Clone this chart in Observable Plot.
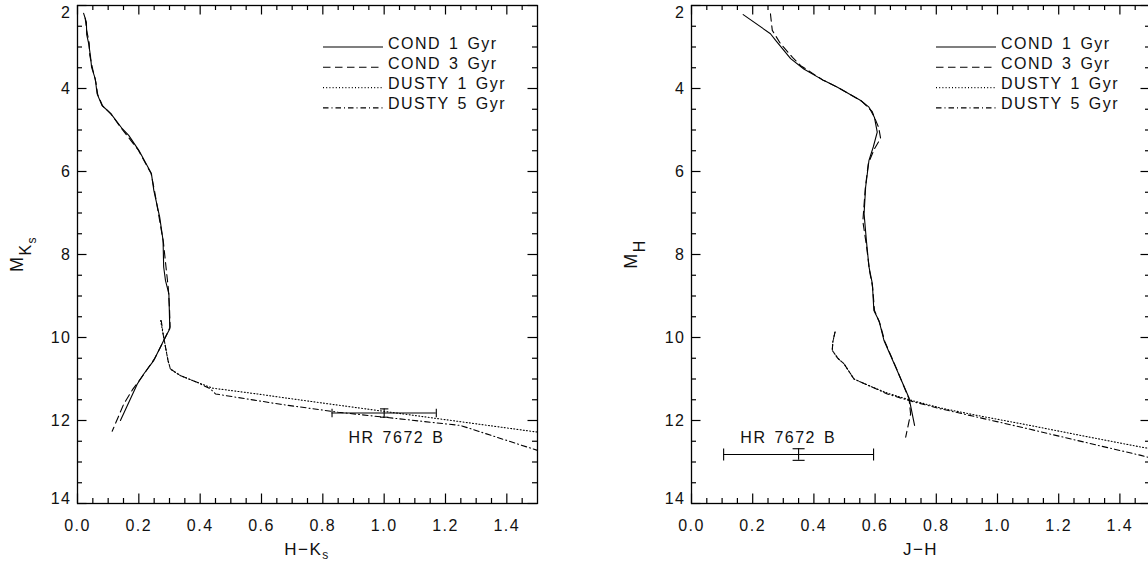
<!DOCTYPE html>
<html><head><meta charset="utf-8">
<script src="https://cdn.jsdelivr.net/npm/d3@7"></script>
<script src="https://cdn.jsdelivr.net/npm/@observablehq/plot@0.6"></script>
<style>
html,body{margin:0;padding:0;background:#fff;overflow:hidden;}
#wrap{position:relative;width:1148px;height:561px;overflow:hidden;background:#fff;}
#wrap svg{position:absolute;top:0;}
#wrap svg text{font-family:"Liberation Sans",Arial,Helvetica,sans-serif;letter-spacing:1.5px;word-spacing:2px;fill:#111;}
</style></head><body><div id="wrap"></div>
<script>
// ---------------- data ----------------
const seriesNames = ["COND 1 Gyr", "COND 3 Gyr", "DUSTY 1 Gyr", "DUSTY 5 Gyr"];

// Left panel: H-Ks vs M_Ks
const hkCond1X = [0.020,0.029,0.030,0.036,0.042,0.046,0.058,0.064,0.080,0.108,0.146,0.167,0.200,0.241,0.249,0.268,0.279,0.281,0.287,0.298,0.301,0.281,0.249,0.216,0.195,0.140];
const hkCond1Y = [2.19,2.40,2.70,2.90,3.20,3.49,3.77,4.13,4.41,4.60,4.97,5.13,5.49,6.05,6.46,7.10,7.66,8.30,8.63,8.95,9.79,10.07,10.55,10.88,11.12,12.00];
const hkCond3X = [0.025,0.030,0.038,0.040,0.050,0.060,0.066,0.082,0.110,0.140,0.160,0.198,0.240,0.252,0.266,0.280,0.290,0.296,0.300,0.302,0.283,0.252,0.215,0.180,0.151,0.113];
const hkCond3Y = [2.30,2.60,2.90,3.20,3.55,3.85,4.15,4.42,4.62,4.93,5.12,5.48,6.05,6.50,7.10,7.70,8.40,8.80,9.30,9.75,10.05,10.50,10.90,11.25,11.60,12.26];
const hkDusty1X = [0.271,0.280,0.287,0.295,0.303,0.336,0.390,0.440,0.586,0.662,0.800,1.000,1.200,1.500];
const hkDusty1Y = [9.59,9.95,10.23,10.55,10.76,10.92,11.08,11.22,11.36,11.44,11.58,11.78,11.98,12.28];
const hkDusty5X = [0.273,0.280,0.287,0.295,0.303,0.336,0.390,0.434,0.450,0.586,0.662,0.850,1.000,1.249,1.500];
const hkDusty5Y = [9.59,9.95,10.23,10.55,10.76,10.92,11.08,11.24,11.36,11.52,11.61,11.80,11.92,12.12,12.72];
const hkStarX = [1.00], hkStarY = [11.82], hkStarErrX = [0.17], hkStarErrY = [0.10];
const hkStarLabelX = [1.04], hkStarLabelY = [12.55];

// Right panel: J-H vs M_H
const jhCond1X = [0.169,0.258,0.275,0.324,0.367,0.433,0.477,0.553,0.580,0.598,0.607,0.594,0.580,0.569,0.564,0.572,0.580,0.591,0.596,0.613,0.629,0.667,0.711,0.729];
const jhCond1Y = [2.22,2.68,2.84,3.28,3.53,3.81,3.97,4.29,4.45,4.70,5.05,5.41,5.73,6.38,7.02,7.70,8.30,8.70,9.35,9.60,10.07,10.71,11.46,12.12];
const jhCond3X = [0.258,0.264,0.291,0.330,0.357,0.430,0.480,0.555,0.590,0.612,0.618,0.598,0.578,0.568,0.560,0.572,0.582,0.592,0.598,0.615,0.632,0.670,0.711,0.716,0.700];
const jhCond3Y = [2.20,2.60,2.92,3.25,3.45,3.80,3.98,4.30,4.55,4.95,5.20,5.45,5.80,6.40,7.20,7.80,8.40,8.80,9.35,9.65,10.10,10.75,11.48,11.84,12.40];
const jhDusty1X = [0.469,0.462,0.460,0.478,0.498,0.531,0.586,0.640,0.711,0.815,0.935,1.100,1.300,1.469,1.500];
const jhDusty1Y = [9.87,10.10,10.31,10.50,10.63,11.00,11.18,11.34,11.50,11.70,11.88,12.11,12.40,12.64,12.68];
const jhDusty5X = [0.469,0.462,0.460,0.478,0.498,0.531,0.586,0.640,0.711,0.815,0.935,1.100,1.300,1.469,1.500];
const jhDusty5Y = [9.87,10.10,10.31,10.50,10.63,11.00,11.18,11.36,11.52,11.72,11.92,12.20,12.55,12.84,12.90];
const jhStarX = [0.35], jhStarY = [12.82], jhStarErrX = [0.245], jhStarErrY = [0.14];
const jhStarLabelX = [0.316], jhStarLabelY = [12.54];

const starLabel = ["HR 7672 B"];

// ticks
const xMajorTicks = [0.0,0.2,0.4,0.6,0.8,1.0,1.2,1.4];
const xMinorTicks = [0.05,0.1,0.15,0.25,0.3,0.35,0.45,0.5,0.55,0.65,0.7,0.75,0.85,0.9,0.95,1.05,1.1,1.15,1.25,1.3,1.35,1.45];
const yMajorTicks = [2,4,6,8,10,12,14];
const yMinorTicks = [2.5,3,3.5,4.5,5,5.5,6.5,7,7.5,8.5,9,9.5,10.5,11,11.5,12.5,13,13.5];

// ---------------- drawing ----------------
const dashes = [null, "7.5,4.5", "1,2.2", "5.5,3,1,3"];
const H = 561, MT = 5, MB = 58;
const wrap = document.getElementById("wrap");

function toRows(xs, ys) { return xs.map((x, i) => ({x, y: ys[i]})); }

function capSymbol(vertical, half) {
  return {draw(ctx) {
    if (vertical) { ctx.moveTo(0, -half); ctx.lineTo(0, half); }
    else { ctx.moveTo(-half, 0); ctx.lineTo(half, 0); }
  }};
}

function panel(cfg) {
  const {left, width, marginLeft, marginRight, curves, star, label, capHalf, xTitle, xSub, yMain, ySubs} = cfg;
  const plotW = width - marginLeft - marginRight;
  const plotH = H - MT - MB;
  const stroke = "#000", tw = 1.2, major = 9.5, minor = 5;
  const marks = [
    ...curves.map((c, i) => Plot.line(c, {x: "x", y: "y", stroke: "#000", strokeWidth: 1.1, strokeDasharray: dashes[i]})),
    // error bars
    Plot.ruleY(star, {y: "y", x1: d => d.x - d.ex, x2: d => d.x + d.ex, stroke, strokeWidth: 1.1}),
    Plot.ruleX(star, {x: "x", y1: d => d.y - d.ey, y2: d => d.y + d.ey, stroke, strokeWidth: 1.1}),
    Plot.dot(star, {x: d => d.x - d.ex, y: "y", symbol: capSymbol(true, capHalf), fill: "none", stroke, strokeWidth: 1.1}),
    Plot.dot(star, {x: d => d.x + d.ex, y: "y", symbol: capSymbol(true, capHalf), fill: "none", stroke, strokeWidth: 1.1}),
    Plot.dot(star, {x: "x", y: d => d.y - d.ey, symbol: capSymbol(false, capHalf), fill: "none", stroke, strokeWidth: 1.1}),
    Plot.dot(star, {x: "x", y: d => d.y + d.ey, symbol: capSymbol(false, capHalf), fill: "none", stroke, strokeWidth: 1.1}),
    Plot.text(label, {x: "x", y: "y", text: "text", fontSize: 16, textAnchor: "middle", lineAnchor: "bottom"}),
    // inward ticks on all four sides
    Plot.tickX(xMajorTicks, {x: d => d, insetTop: plotH - major, stroke, strokeWidth: tw}),
    Plot.tickX(xMinorTicks, {x: d => d, insetTop: plotH - minor, stroke, strokeWidth: tw}),
    Plot.tickX(xMajorTicks, {x: d => d, insetBottom: plotH - major, stroke, strokeWidth: tw}),
    Plot.tickX(xMinorTicks, {x: d => d, insetBottom: plotH - minor, stroke, strokeWidth: tw}),
    Plot.tickY(yMajorTicks, {y: d => d, insetRight: plotW - major, stroke, strokeWidth: tw}),
    Plot.tickY(yMinorTicks, {y: d => d, insetRight: plotW - minor, stroke, strokeWidth: tw}),
    Plot.tickY(yMajorTicks, {y: d => d, insetLeft: plotW - major, stroke, strokeWidth: tw}),
    Plot.tickY(yMinorTicks, {y: d => d, insetLeft: plotW - minor, stroke, strokeWidth: tw}),
    Plot.frame({stroke, strokeWidth: 1.3}),
    // tick labels
    Plot.axisX({ticks: xMajorTicks, tickSize: 0, tickPadding: 16, tickFormat: d3.format(".1f"), label: null, fontSize: 16}),
    Plot.axisY({ticks: yMajorTicks.slice(1, -1), tickSize: 0, tickPadding: 6, tickFormat: d3.format("d"), label: null, fontSize: 16}),
    Plot.axisY({ticks: yMajorTicks.slice(0, 1), tickSize: 0, tickPadding: 6, tickFormat: d3.format("d"), label: null, fontSize: 16, dy: 7}),
    Plot.axisY({ticks: yMajorTicks.slice(-1), tickSize: 0, tickPadding: 6, tickFormat: d3.format("d"), label: null, fontSize: 16, dy: -5})
  ];
  const chart = Plot.plot({
    width, height: H, marginTop: MT, marginBottom: MB, marginLeft, marginRight,
    x: {domain: [0, 1.5]},
    y: {domain: [2, 14], reverse: true},
    style: {fontFamily: '"Liberation Sans", Arial, sans-serif', fontSize: "16px", color: "#111", background: "transparent", overflow: "visible"},
    marks
  });
  chart.style.left = left + "px";
  wrap.appendChild(chart);

  const svg = d3.select(chart);
  const x0 = marginLeft, x1 = width - marginRight;
  const yMid = (MT + H - MB) / 2;

  // legend (positioned relative to the frame's top-right corner)
  const lg = svg.append("g");
  seriesNames.forEach((name, i) => {
    const yy = MT + 42 + i * 20.3;
    lg.append("line").attr("x1", x1 - 214).attr("x2", x1 - 154).attr("y1", yy).attr("y2", yy)
      .attr("stroke", "#000").attr("stroke-width", 1.1).attr("stroke-dasharray", dashes[i]);
    lg.append("text").attr("x", x1 - 149).attr("y", yy + 1.5).attr("text-anchor", "start").attr("font-size", 16).text(name);
  });

  // x title
  const xt = svg.append("text").attr("x", (x0 + x1) / 2).attr("y", H - 6).attr("text-anchor", "middle").attr("font-size", 17);
  xt.append("tspan").text(xTitle);
  if (xSub) xt.append("tspan").attr("font-size", 12).attr("dy", 4).text(xSub);

  // y title (rotated)
  const yt = svg.append("text").attr("transform", `translate(${x0 - 54},${yMid}) rotate(-90)`)
    .attr("text-anchor", "middle").attr("font-size", 18);
  yt.append("tspan").text(yMain);
  const sizes = [16, 12], shifts = [8, 5];
  ySubs.forEach((s, i) => yt.append("tspan").attr("font-size", sizes[i]).attr("dy", shifts[i]).text(s));
}

function starRows(xs, ys, exs, eys) { return xs.map((x, i) => ({x, y: ys[i], ex: exs[i], ey: eys[i]})); }
function labelRows(xs, ys) { return xs.map((x, i) => ({x, y: ys[i], text: starLabel[i]})); }

panel({
  left: 0, width: 574, marginLeft: 77, marginRight: 37,
  curves: [toRows(hkCond1X, hkCond1Y), toRows(hkCond3X, hkCond3Y), toRows(hkDusty1X, hkDusty1Y), toRows(hkDusty5X, hkDusty5Y)],
  star: starRows(hkStarX, hkStarY, hkStarErrX, hkStarErrY),
  label: labelRows(hkStarLabelX, hkStarLabelY),
  capHalf: 4.2,
  xTitle: "H\u2212K", xSub: "s", yMain: "M", ySubs: ["K", "s"]
});
panel({
  left: 574, width: 578, marginLeft: 117, marginRight: 2,
  curves: [toRows(jhCond1X, jhCond1Y), toRows(jhCond3X, jhCond3Y), toRows(jhDusty1X, jhDusty1Y), toRows(jhDusty5X, jhDusty5Y)],
  star: starRows(jhStarX, jhStarY, jhStarErrX, jhStarErrY),
  label: labelRows(jhStarLabelX, jhStarLabelY),
  capHalf: 6,
  xTitle: "J\u2212H", xSub: null, yMain: "M", ySubs: ["H"]
});
</script></body></html>
